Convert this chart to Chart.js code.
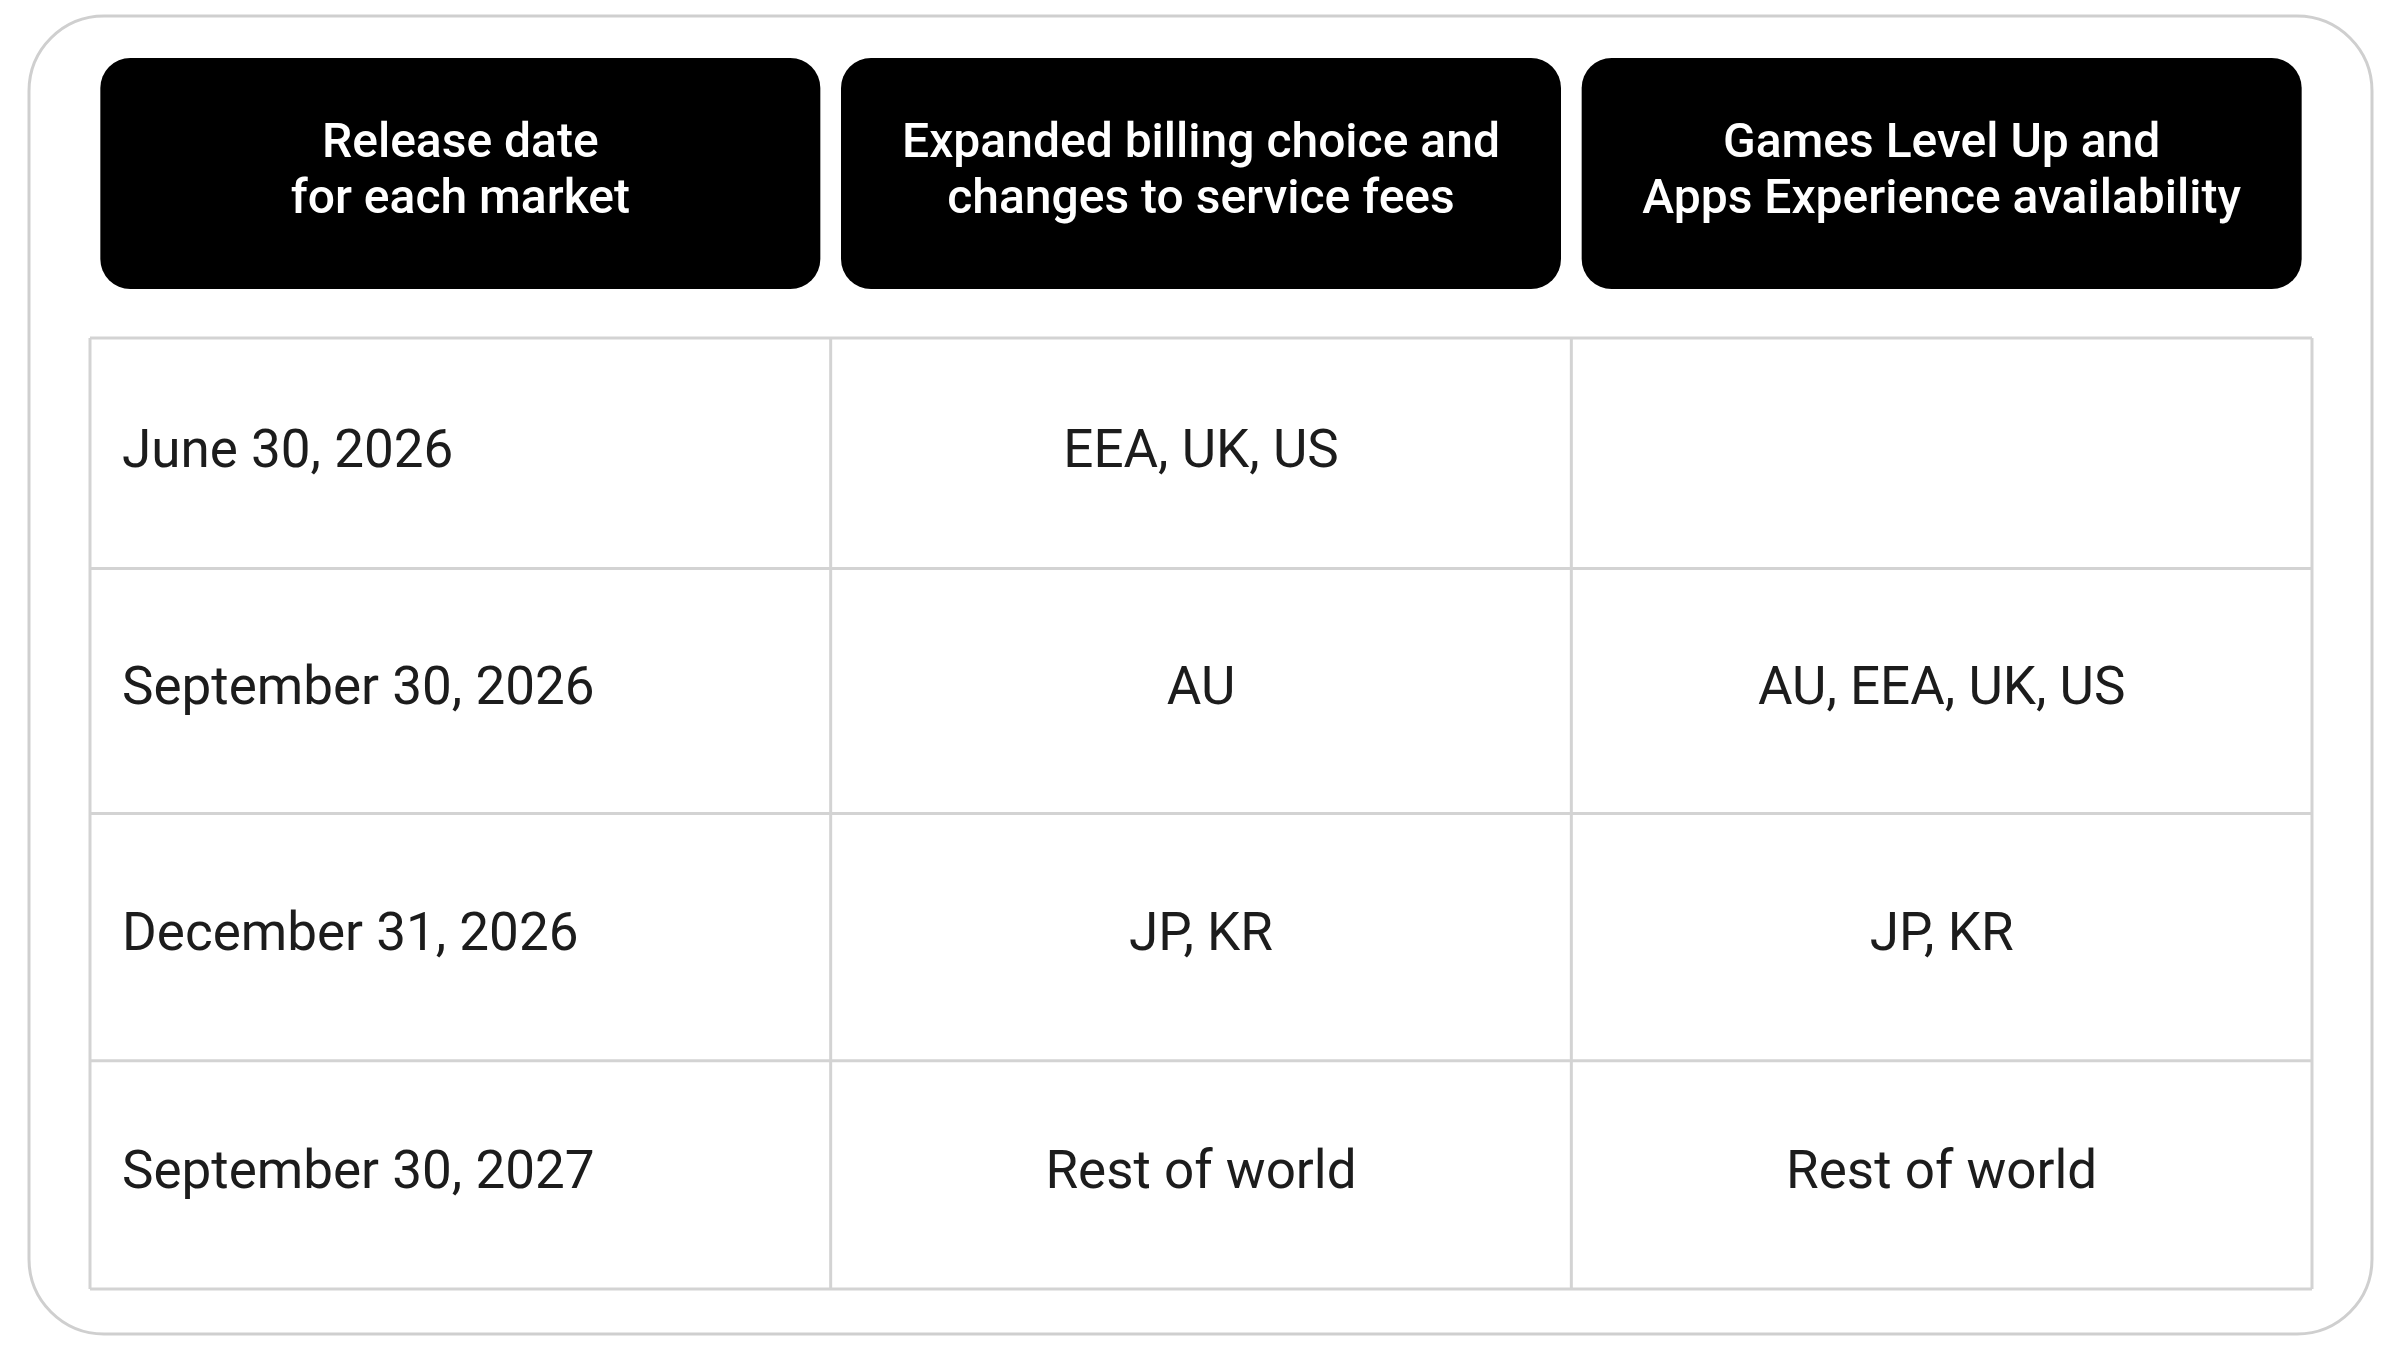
<!DOCTYPE html>
<html><head><meta charset="utf-8">
<script src="https://cdn.jsdelivr.net/npm/chart.js@4/dist/chart.umd.min.js"></script>
<style>html,body{margin:0;padding:0;background:#fff}#wrap{width:2400px;height:1350px}</style>
</head><body><div id="wrap"><canvas id="c" width="2400" height="1350"></canvas></div>
<script>
const headers = [["Release date","for each market"],["Expanded billing choice and","changes to service fees"],["Games Level Up and","Apps Experience availability"]];
const dates = ["June 30, 2026","September 30, 2026","December 31, 2026","September 30, 2027"];
const billing = ["EEA, UK, US","AU","JP, KR","Rest of world"];
const games = ["","AU, EEA, UK, US","JP, KR","Rest of world"];
const rowEdges = [0, 0.97, 2.0, 3.04, 4];
const FONT = 'Roboto, "Noto Sans", sans-serif';

const tablePlugin = {
  id: 'table',
  afterDraw(chart) {
    const ctx = chart.ctx, xs = chart.scales.x, ys = chart.scales.y;
    ctx.save();
    // outer frame
    ctx.strokeStyle = '#cfcfcf'; ctx.lineWidth = 3;
    ctx.beginPath(); ctx.roundRect(29, 16, 2343, 1318, 75); ctx.stroke();
    // header boxes
    for (let i = 0; i < 3; i++) {
      const cx = xs.getPixelForValue(i + 0.5);
      ctx.fillStyle = '#000';
      ctx.beginPath(); ctx.roundRect(cx - 360, 58, 720, 231, 30); ctx.fill();
      ctx.fillStyle = '#fff'; ctx.font = '500 48px ' + FONT;
      ctx.textAlign = 'center'; ctx.textBaseline = 'middle';
      ctx.fillText(headers[i][0], cx, 145);
      ctx.fillText(headers[i][1], cx, 201);
    }
    // grid
    const l = xs.getPixelForValue(0), r = xs.getPixelForValue(3);
    const t = ys.getPixelForValue(0), b = ys.getPixelForValue(4);
    ctx.strokeStyle = '#d3d3d3'; ctx.lineWidth = 3;
    rowEdges.forEach(v => { const y = ys.getPixelForValue(v); ctx.beginPath(); ctx.moveTo(l, y); ctx.lineTo(r, y); ctx.stroke(); });
    [0,1,2,3].forEach(v => { const x = xs.getPixelForValue(v); ctx.beginPath(); ctx.moveTo(x, t); ctx.lineTo(x, b); ctx.stroke(); });
    // cells
    ctx.fillStyle = '#1c1c1c'; ctx.font = '400 53px ' + FONT; ctx.textBaseline = 'middle';
    for (let i = 0; i < 4; i++) {
      const y = (ys.getPixelForValue(rowEdges[i]) + ys.getPixelForValue(rowEdges[i+1])) / 2;
      ctx.textAlign = 'left'; ctx.fillText(dates[i], l + 32, y);
      ctx.textAlign = 'center';
      ctx.fillText(billing[i], xs.getPixelForValue(1.5), y);
      ctx.fillText(games[i], xs.getPixelForValue(2.5), y);
    }
    ctx.restore();
  }
};

new Chart(document.getElementById('c'), {
  type: 'scatter',
  data: { datasets: [{ data: [] }] },
  options: {
    responsive: false, animation: false, devicePixelRatio: 1,
    layout: { padding: { left: 90, right: 88, top: 338, bottom: 61 } },
    plugins: { legend: { display: false }, tooltip: { enabled: false } },
    scales: {
      x: { type: 'linear', min: 0, max: 3, display: false },
      y: { type: 'linear', min: 0, max: 4, reverse: true, display: false }
    }
  },
  plugins: [tablePlugin]
});
</script></body></html>
